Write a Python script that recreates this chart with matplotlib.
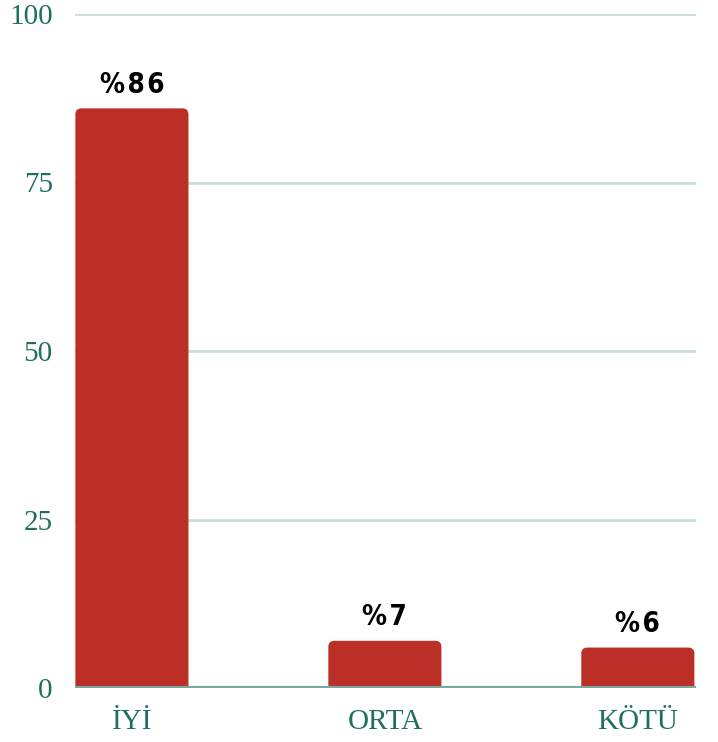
import matplotlib
matplotlib.use('Agg')
import matplotlib.pyplot as plt
from matplotlib.patches import FancyBboxPatch

categories = ['İYİ', 'ORTA', 'KÖTÜ']
values = [86, 7, 6]
labels = ['%86', '%7', '%6']
yticks = [0, 25, 50, 75, 100]

bar_color = '#bc2f27'
teal = '#1f6f60'

fig = plt.figure(figsize=(7.18, 7.42), dpi=100)
ax = fig.add_axes([75 / 718, 54 / 742, 621 / 718, 674 / 742])

x = list(range(len(categories)))
width = 0.447
bars = ax.bar(x, values, width=width, color=bar_color)

# swap plain bars for ones with rounded top corners (bottom hidden below 0)
for b in bars:
    b.set_visible(False)
    x0, w, h = b.get_x(), b.get_width(), b.get_height()
    patch = FancyBboxPatch((x0, -2), w, h + 2,
                           boxstyle='round,pad=0,rounding_size=0.024',
                           mutation_aspect=37, facecolor=bar_color,
                           edgecolor='none', zorder=3)
    ax.add_patch(patch)

for xi, v, lab in zip(x, values, labels):
    ax.annotate('\u200a'.join(lab), (xi, v), xytext=(0, 7),
                textcoords='offset points', ha='center', va='bottom',
                fontsize=20, fontweight='bold',
                family=['DejaVu Sans Condensed', 'DejaVu Sans'],
                fontstretch='condensed', color='black')

ax.set_xlim(-0.225, 2.23)
ax.set_ylim(0, 100)
ax.set_yticks(yticks)
ax.set_xticks(x)
ax.set_xticklabels(categories)

for t in yticks[1:]:
    ax.axhline(t, color='#c9ddd8', linewidth=2, zorder=1)
ax.axhline(0, color='#7aa89e', linewidth=3, zorder=4)

for s in ax.spines.values():
    s.set_visible(False)
ax.tick_params(length=0, labelsize=21, labelcolor=teal)
ax.tick_params(axis='y', pad=16)
ax.tick_params(axis='x', pad=15)
for lab in ax.get_xticklabels() + ax.get_yticklabels():
    lab.set_family('Liberation Serif')

fig.savefig('out.png', dpi=100)
